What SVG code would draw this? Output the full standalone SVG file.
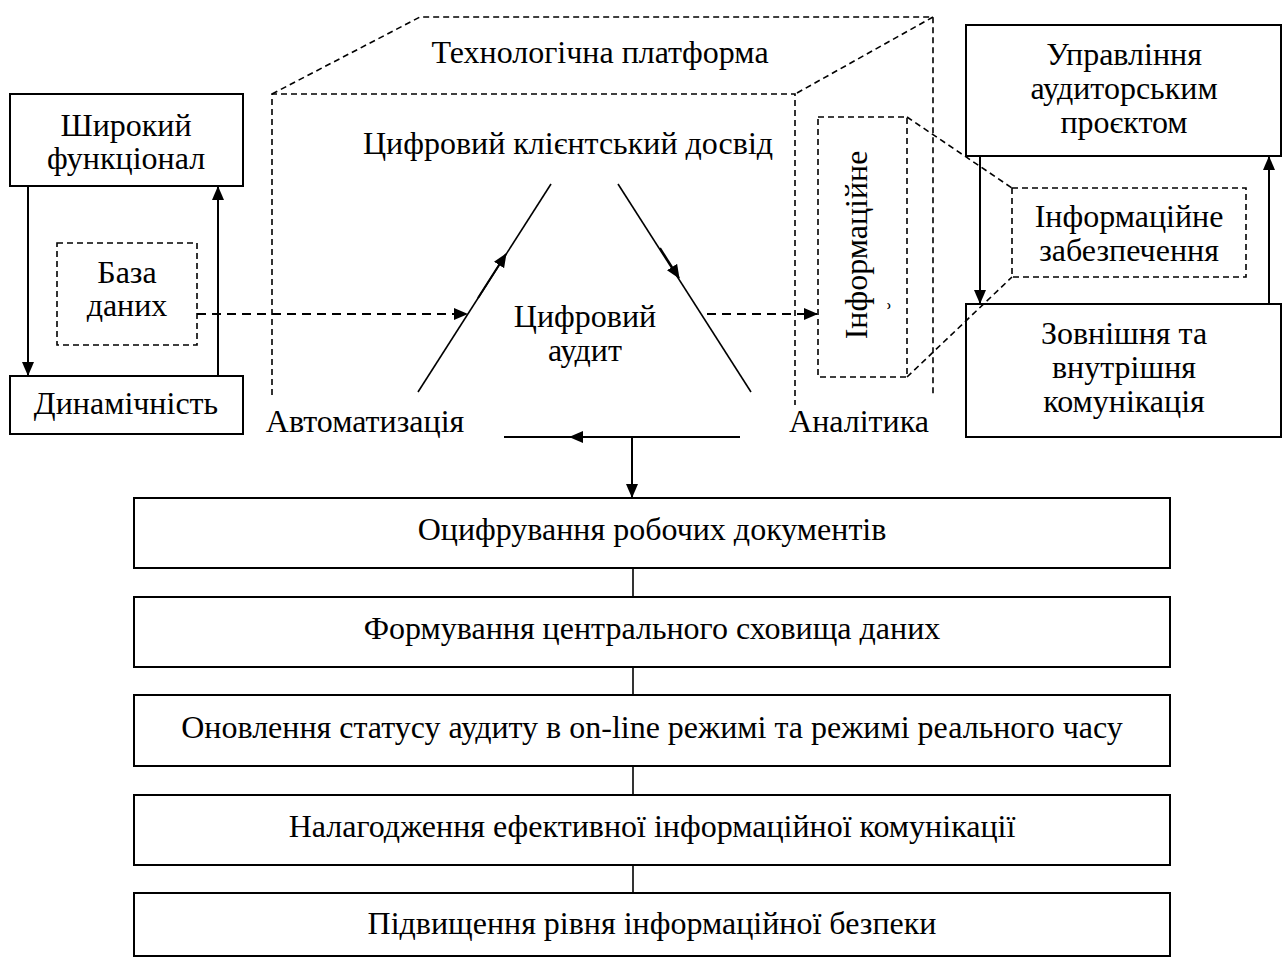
<svg xmlns="http://www.w3.org/2000/svg" width="1282" height="958" viewBox="0 0 1282 958">
<defs>
<marker id="ah" markerWidth="14" markerHeight="12" refX="13" refY="6" orient="auto" markerUnits="userSpaceOnUse">
<path d="M0,0 L14,6 L0,12 Z" fill="#000"/>
</marker>
<style>
text{font-family:"Liberation Serif","Times New Roman",serif;font-size:32px;fill:#000;text-anchor:middle}
.box{fill:#fff;stroke:#000;stroke-width:2}
.dbox{fill:none;stroke:#000;stroke-width:1.6;stroke-dasharray:6,4}
.dl{fill:none;stroke:#000;stroke-width:1.6;stroke-dasharray:6,4}
.da{fill:none;stroke:#000;stroke-width:2.2;stroke-dasharray:9,6}
.sl{fill:none;stroke:#000;stroke-width:2}
.tl{fill:none;stroke:#000;stroke-width:1.6}
</style>
</defs>
<rect width="1282" height="958" fill="#fff"/>

<g id="platform">
<path class="dl" d="M272,395 L272,94 L795,94 L795,405"/>
<path class="dl" d="M272,94 L420,17 L933,17 L933,395"/>
<path class="dl" d="M797,93 L933,17"/>
<text x="600" y="63">Технологічна платформа</text>
</g>

<g id="shyrokyi">
<rect class="box" x="10" y="94" width="233" height="92"/>
<text x="126" y="136">Широкий</text>
<text x="126" y="169">функціонал</text>
</g>
<g id="dynamichnist">
<rect class="box" x="10" y="376" width="233" height="58"/>
<text x="126" y="414">Динамічність</text>
</g>
<g id="baza">
<rect class="dbox" x="57" y="243" width="140" height="102"/>
<text x="127" y="283">База</text>
<text x="127" y="316">даних</text>
</g>

<g id="klient">
<text x="568" y="154">Цифровий клієнтський досвід</text>
</g>
<g id="audyt">
<text x="585" y="327">Цифровий</text>
<text x="585" y="361">аудит</text>
</g>
<g id="avtomatyzatsiia">
<text x="365" y="432">Автоматизація</text>
</g>
<g id="analityka">
<text x="859" y="432">Аналітика</text>
</g>

<g id="info-vert">
<rect class="dbox" x="818" y="117" width="89" height="260"/>
<text transform="translate(867,245) rotate(-90)" x="0" y="0">Інформаційне</text>
<text transform="translate(902,306) rotate(-90)" x="0" y="0" style="font-size:22px">˘</text>
</g>

<g id="upravlinnia">
<rect class="box" x="966" y="25" width="315" height="131"/>
<text x="1124" y="65">Управління</text>
<text x="1124" y="99">аудиторським</text>
<text x="1124" y="133">проєктом</text>
</g>
<g id="info-zab">
<rect class="dbox" x="1012" y="188" width="234" height="89"/>
<text x="1129" y="227">Інформаційне</text>
<text x="1129" y="261">забезпечення</text>
</g>
<g id="komunikatsiia">
<rect class="box" x="966" y="304" width="315" height="133"/>
<text x="1124" y="344">Зовнішня та</text>
<text x="1124" y="378">внутрішня</text>
<text x="1124" y="412">комунікація</text>
</g>

<g id="step1">
<rect class="box" x="134" y="498" width="1036" height="70"/>
<text x="652" y="540">Оцифрування робочих документів</text>
</g>
<g id="step2">
<rect class="box" x="134" y="597" width="1036" height="70"/>
<text x="652" y="639">Формування центрального сховища даних</text>
</g>
<g id="step3">
<rect class="box" x="134" y="695" width="1036" height="71"/>
<text x="652" y="738">Оновлення статусу аудиту в on-line режимі та режимі реального часу</text>
</g>
<g id="step4">
<rect class="box" x="134" y="795" width="1036" height="70"/>
<text x="652" y="837">Налагодження ефективної інформаційної комунікації</text>
</g>
<g id="step5">
<rect class="box" x="134" y="893" width="1036" height="63"/>
<text x="652" y="934">Підвищення рівня інформаційної безпеки</text>
</g>

<g id="connectors">
<line class="sl" x1="28" y1="186" x2="28" y2="375" marker-end="url(#ah)"/>
<line class="sl" x1="218" y1="376" x2="218" y2="187" marker-end="url(#ah)"/>
<line class="da" x1="197" y1="314" x2="467" y2="314" marker-end="url(#ah)"/>
<line class="tl" x1="418" y1="392" x2="551" y2="184"/>
<line class="sl" x1="478" y1="298" x2="506" y2="254" marker-end="url(#ah)"/>
<line class="tl" x1="618" y1="184" x2="751" y2="392"/>
<line class="sl" x1="660" y1="248" x2="679" y2="278" marker-end="url(#ah)"/>
<line class="da" x1="707" y1="314" x2="817" y2="314" marker-end="url(#ah)"/>
<line class="sl" x1="504" y1="437" x2="740" y2="437"/>
<line class="sl" x1="610" y1="437" x2="570" y2="437" marker-end="url(#ah)"/>
<line class="sl" x1="632" y1="437" x2="632" y2="497" marker-end="url(#ah)"/>
<line class="dl" x1="907" y1="117" x2="1012" y2="188"/>
<line class="dl" x1="907" y1="377" x2="1012" y2="277"/>
<line class="sl" x1="980" y1="156" x2="980" y2="303" marker-end="url(#ah)"/>
<line class="sl" x1="1269" y1="304" x2="1269" y2="157" marker-end="url(#ah)"/>
<line class="tl" x1="633" y1="568" x2="633" y2="597"/>
<line class="tl" x1="633" y1="667" x2="633" y2="695"/>
<line class="tl" x1="633" y1="766" x2="633" y2="795"/>
<line class="tl" x1="633" y1="865" x2="633" y2="893"/>
</g>
</svg>
